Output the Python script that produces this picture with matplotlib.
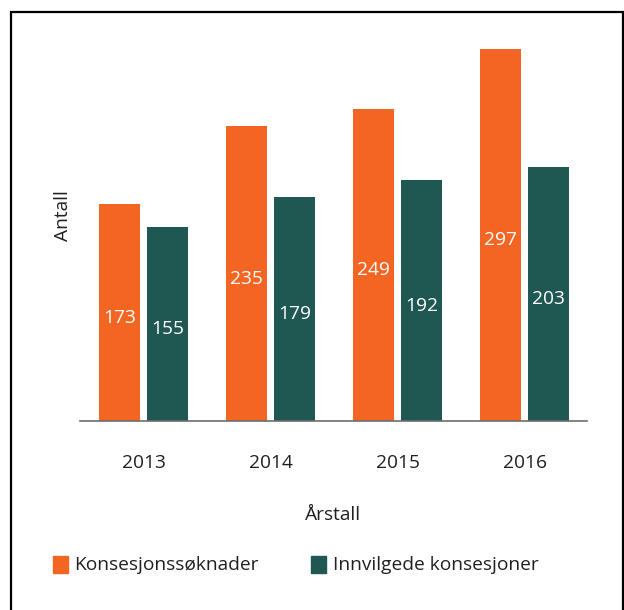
import matplotlib
matplotlib.use("Agg")
import matplotlib.pyplot as plt
from matplotlib.patches import Rectangle
import numpy as np

years = ["2013", "2014", "2015", "2016"]
soknader = [173, 235, 249, 297]
innvilget = [155, 179, 192, 203]
series_names = ["Konsesjonssøknader", "Innvilgede konsesjoner"]

ORANGE = "#F26522"
TEAL = "#1F5753"
TXT = "#231F20"
FONT = ["Open Sans", "DejaVu Sans"]
plt.rcParams["font.family"] = FONT
FS = 13.8

W, H = 624, 610
fig = plt.figure(figsize=(W / 100, H / 100), dpi=100)

def fx(px):
    return px / W

def fy(py):
    return 1 - py / H

ax = fig.add_axes([fx(80), fy(421), (587 - 80) / W, (421 - 45) / H])
x = np.arange(len(years))
bw = 41 / 127
off = 24 / 127
b1 = ax.bar(x - off, soknader, width=bw, color=ORANGE)
b2 = ax.bar(x + off, innvilget, width=bw, color=TEAL)
for bars, vals in ((b1, soknader), (b2, innvilget)):
    for r, v in zip(bars, vals):
        ax.text(r.get_x() + r.get_width() / 2, v / 2 - 4, str(v), ha="center", va="center",
                color="white", fontsize=FS)

ax.set_xlim(-0.5, 3.49)
ax.set_ylim(0, 300)
for s in ["top", "right", "left"]:
    ax.spines[s].set_visible(False)
ax.spines["bottom"].set_color("#6d6d6d")
ax.spines["bottom"].set_linewidth(1.2)
ax.set_yticks([])
ax.set_xticks(x)
ax.set_xticklabels(years, fontsize=FS, color=TXT)
ax.tick_params(axis="x", length=0, pad=24)

fig.text(fx(333), fy(515), "Årstall", ha="center", va="center", fontsize=FS, color=TXT)
fig.text(fx(63), fy(216), "Antall", ha="center", va="center", rotation=90, fontsize=FS, color=TXT)

# legend
fig.patches.append(Rectangle((fx(53), fy(573)), 15 / W, 17 / H, transform=fig.transFigure,
                             color=ORANGE, figure=fig))
fig.text(fx(74), fy(565), series_names[0], ha="left", va="center", fontsize=FS, color=TXT)
fig.patches.append(Rectangle((fx(311), fy(573)), 15 / W, 17 / H, transform=fig.transFigure,
                             color=TEAL, figure=fig))
fig.text(fx(333), fy(565), series_names[1], ha="left", va="center", fontsize=FS, color=TXT)

# frame
fig.patches.append(Rectangle((fx(11), fy(640)), (623 - 11) / W, (640 - 12) / H,
                             transform=fig.transFigure, fill=False, edgecolor="black",
                             linewidth=1.6, figure=fig, clip_on=False))

fig.savefig("out.png", dpi=100)
